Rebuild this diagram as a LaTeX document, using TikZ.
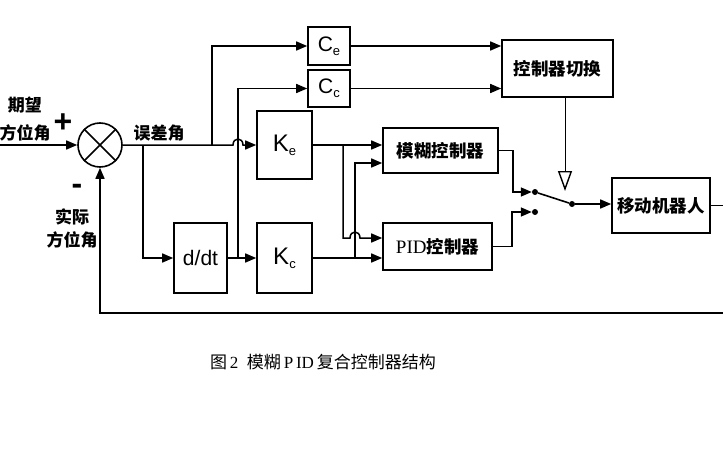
\documentclass[tikz,border=0pt]{standalone}
\usepackage{fontspec}
\setmainfont{Liberation Sans}
\newfontfamily\cjk{Noto Sans CJK SC}
\newfontfamily\capfont{Liberation Serif}
\usetikzlibrary{positioning, arrows.meta, shapes.geometric}
\newcommand{\sub}[1]{\raisebox{-4pt}{\fontsize{13}{13}\selectfont #1}}
\tikzset{
    blk/.style={rectangle, draw=black, line width=1.6pt, inner sep=0pt, font=\fontsize{21}{21}\selectfont},
    cblk/.style={blk, font=\cjk\bfseries\fontsize{17.5}{17.5}\selectfont},
    sumj/.style={circle, draw=black, line width=1.6pt, minimum size=44pt, inner sep=0pt},
    wire/.style={line width=1.5pt},
    arr/.style={wire, -{Triangle[length=11pt, width=9pt]}},
    ctl/.style={line width=1pt, -{Triangle[open, length=20pt, width=14pt, line width=1.4pt]}},
    lab/.style={font=\cjk\bfseries\fontsize{17}{17}\selectfont, inner sep=0pt},
    sgn/.style={font=\bfseries\fontsize{32}{32}\selectfont, inner sep=0pt},
    contact/.style={circle, fill=black, inner sep=0pt, minimum size=6pt},
}
\begin{document}
\begin{tikzpicture}[x=1pt, y=-1pt]
    \useasboundingbox (0,0) rectangle (723,452);
    % blocks
    \node [sumj] (sum) at (100,145) {};
    \draw [line width=1.6pt] (sum.45) -- (sum.225) (sum.135) -- (sum.315);
    \node [blk, minimum width=42pt, minimum height=38pt] (ce) at (329,46) {C\sub{e}};
    \node [blk, minimum width=42pt, minimum height=37pt] (cc) at (329,88.5) {C\sub{c}};
    \node [blk, minimum width=55pt, minimum height=68pt, font=\fontsize{24}{24}\selectfont] (ke) at (284.5,145) {K\sub{e}};
    \node [blk, minimum width=53pt, minimum height=70pt] (ddt) at (200.5,258) {d/dt};
    \node [blk, minimum width=55pt, minimum height=70pt, font=\fontsize{24}{24}\selectfont] (kc) at (284.5,258) {K\sub{c}};
    \node [cblk, minimum width=115pt, minimum height=45pt] (fuzzy) at (440.5,150.5) {模糊控制器};
    \node [cblk, minimum width=109pt, minimum height=47pt] (pid) at (437.5,246.5) {{\capfont\mdseries\fontsize{19}{19}\selectfont PID}控制器};
    \node [cblk, minimum width=111pt, minimum height=57pt] (sel) at (557.5,68.5) {控制器切换};
    \node [cblk, minimum width=98pt, minimum height=55pt] (robot) at (661,205.5) {移动机器人};
    % switch
    \node [contact] (c1) at (535,192) {};
    \node [contact] (c2) at (535,212) {};
    \node [contact] (c3) at (572,204) {};
    \coordinate (in) at (0,145);
    \coordinate (tip) at (565,191);
    \coordinate (out) at (723,205.5);
    \coordinate (fb) at (723,313);
    % labels
    \node [lab] (want1) at (25,105) {期望};
    \node [lab] (want2) at (25,133) {方位角};
    \node [sgn] (plus) at (63,123) {+};
    \node [sgn] (minus) at (77,189) {-};
    \node [lab] (real1) at (72,217) {实际};
    \node [lab] (real2) at (72,240) {方位角};
    \node [lab] (err) at (159,133) {误差角};
    \node [font=\fontsize{17}{17}\selectfont, inner sep=0pt] (cap) at (323,362)
        {{\cjk 图}\,{\capfont 2}\enspace{\cjk 模糊}\,{\capfont P\,ID}\,{\cjk 复合控制器结构}};
    % connectors
    \draw [arr] (in) -- (sum.west);
    \draw [arr] (sum.east) -- (233,145) .. controls (233,137) and (243,137) .. (243,145) -- (ke.west);
    \draw [arr] (143,145) |- (ddt.west);
    \draw [arr] (212,145) |- (ce.west);
    \draw [arr] (ddt.east) -- (kc.west);
    \draw [arr] (238,258) |- (cc.west);
    \draw [arr] (ce.east) -- (ce.east -| sel.west);
    \draw [arr] (cc.east) -- (cc.east -| sel.west);
    \draw [arr] (ke.east) -- (ke.east -| fuzzy.west);
    \draw [arr] (343,145) -- (343,238) -- (350,238) .. controls (350,230) and (360,230) .. (360,238) -- (pid.west |- 0,238);
    \draw [arr] (kc.east) -- (kc.east -| pid.west);
    \draw [arr] (355,258) |- (fuzzy.west |- 0,163);
    \draw [arr] (fuzzy.east) -- (513,150.5) |- (c1.west);
    \draw [arr] (pid.east) -- (512,246.5) |- (c2.west);
    \draw [line width=1.6pt] (c1) -- (c3);
    \draw [arr] (c3) -- (c3 -| robot.west);
    \draw [ctl] (tip |- sel.south) -- (tip);
    \draw [wire] (robot.east) -- (out);
    \draw [arr] (fb) -| (sum.south);
\end{tikzpicture}
\end{document}
